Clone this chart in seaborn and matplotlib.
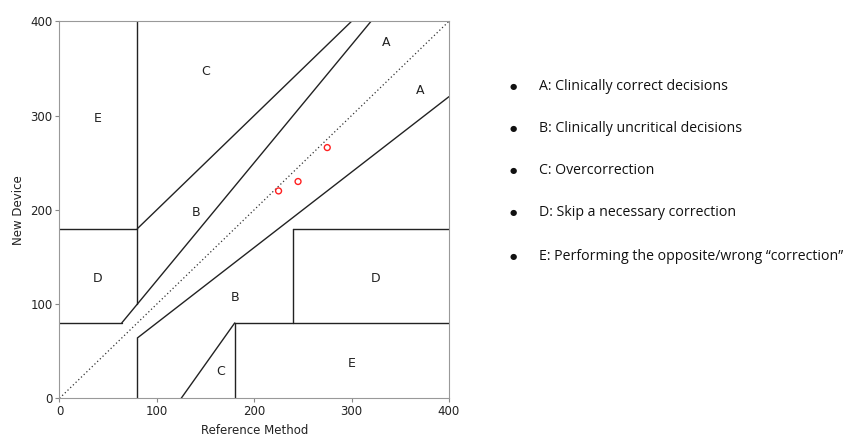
import numpy as np
import pandas as pd
import matplotlib
matplotlib.use("Agg")
import matplotlib.pyplot as plt
import seaborn as sns

# Measured points (reference vs new device)
ref_values = [225, 245, 275]
dev_values = [220, 230, 266]

# Zone boundary segments: (x0, y0, x1, y1)
boundaries = [
    (80, 100, 80, 400),    # vertical separating E / C
    (0, 180, 80, 180),     # top of upper-left D
    (80, 180, 300, 400),   # C / B upper boundary
    (0, 80, 64, 80),       # bottom of upper-left D
    (64, 80, 320, 400),    # B / A upper boundary
    (80, 0, 80, 64),       # vertical lower-left
    (80, 64, 400, 320),    # A / B lower boundary
    (125, 0, 180, 80),     # lower C slant
    (180, 0, 180, 80),     # lower C vertical
    (180, 80, 400, 80),    # top of lower-right E
    (240, 80, 240, 180),   # left of lower-right D
    (240, 180, 400, 180),  # top of lower-right D
]

zone_names = ["A", "A", "C", "E", "B", "D", "B", "D", "C", "E"]
zone_x = [335, 370, 150, 39, 140, 39, 180, 325, 165, 300]
zone_y = [377, 327, 347, 297, 197, 127, 107, 127, 28, 37]

legend_items = [
    "A: Clinically correct decisions",
    "B: Clinically uncritical decisions",
    "C: Overcorrection",
    "D: Skip a necessary correction",
    "E: Performing the opposite/wrong \u201ccorrection\u201d",
]

sns.set_theme(style="white")
plt.rcParams["font.family"] = ["DejaVu Sans"]

fig = plt.figure(figsize=(8.46, 4.43), dpi=100)
ax = fig.add_axes([0.0703, 0.1009, 0.4604, 0.8511])

# identity line
ident = pd.DataFrame({"x": [0, 400], "y": [0, 400]})
sns.lineplot(data=ident, x="x", y="y", ax=ax, color="#333333",
             linestyle=(0, (1, 2)), linewidth=0.9, estimator=None)

for x0, y0, x1, y1 in boundaries:
    seg = pd.DataFrame({"x": [x0, x1], "y": [y0, y1]})
    sns.lineplot(data=seg, x="x", y="y", ax=ax, color="#222222",
                 linewidth=1.0, sort=False, estimator=None)

pts = pd.DataFrame({"ref": ref_values, "dev": dev_values})
sns.scatterplot(data=pts, x="ref", y="dev", ax=ax, marker="o", s=18,
                facecolor="none", edgecolor="#ff2020", linewidth=1.0, zorder=5)

for name, zx, zy in zip(zone_names, zone_x, zone_y):
    ax.text(zx, zy, name, ha="center", va="center", fontsize=9, color="#222222")

ax.set_xlim(0, 400)
ax.set_ylim(0, 400)
ax.set_xticks([0, 100, 200, 300, 400])
ax.set_yticks([0, 100, 200, 300, 400])
ax.tick_params(axis="both", labelsize=8.5, length=3, width=0.8,
               color="#888888", labelcolor="#222222", direction="out",
               bottom=True, left=True, pad=2)
for sp in ax.spines.values():
    sp.set_color("#999999")
    sp.set_linewidth(0.8)
ax.set_xlabel("Reference Method", fontsize=8.5, color="#222222", labelpad=4)
ax.set_ylabel("New Device", fontsize=8.5, color="#222222", labelpad=4)

# bulleted zone descriptions
y_px = [87, 129, 171, 213, 256]
for txt, yp in zip(legend_items, y_px):
    yf = 1 - yp / 443
    fig.text(513 / 846, yf, "\u25cf", ha="center", va="center",
             fontsize=6, color="#111111", family=["DejaVu Sans"])
    fig.text(539 / 846, yf, txt, ha="left", va="center",
             fontsize=10.2, color="#111111", family=["Open Sans", "DejaVu Sans"])

fig.savefig("out.png", dpi=100, facecolor="white")
